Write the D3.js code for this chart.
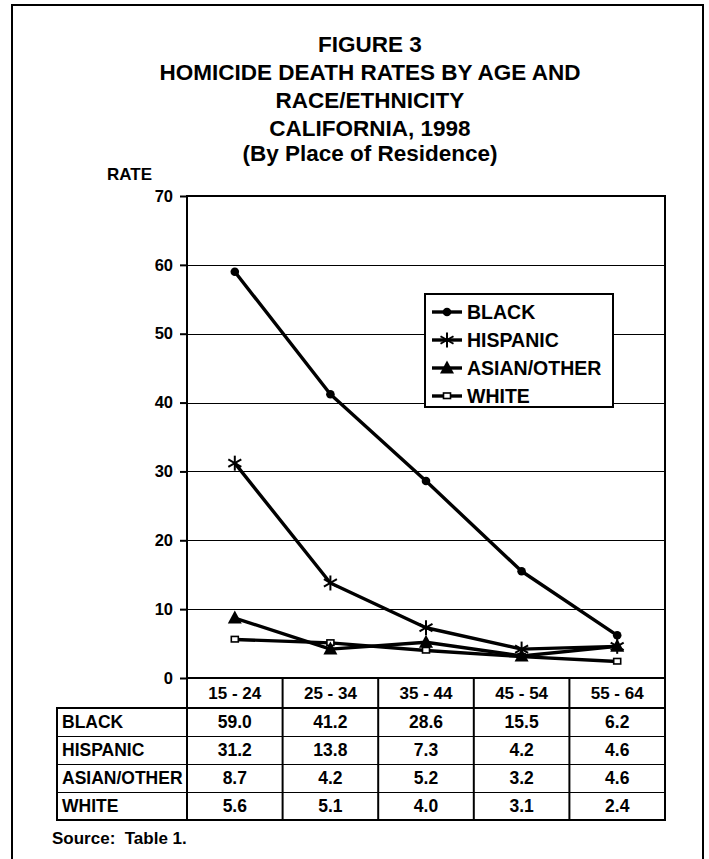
<!DOCTYPE html>
<html><head><meta charset="utf-8">
<script src="https://cdn.jsdelivr.net/npm/d3@7"></script>
<style>
html,body{margin:0;padding:0;background:#fff;}
svg{display:block;}
text{font-family:"Liberation Sans",Arial,sans-serif;font-weight:bold;fill:#000;white-space:pre;}
</style></head>
<body>
<svg id="chart" width="709" height="859"></svg>
<script>
const categories = ["15 - 24","25 - 34","35 - 44","45 - 54","55 - 64"];
const seriesNames = ["BLACK","HISPANIC","ASIAN/OTHER","WHITE"];
const black = [59.0, 41.2, 28.6, 15.5, 6.2];
const hispanic = [31.2, 13.8, 7.3, 4.2, 4.6];
const asianOther = [8.7, 4.2, 5.2, 3.2, 4.6];
const white = [5.6, 5.1, 4.0, 3.1, 2.4];
const yTicks = [0,10,20,30,40,50,60,70];
const titleLines = ["FIGURE 3","HOMICIDE DEATH RATES BY AGE AND","RACE/ETHNICITY","CALIFORNIA, 1998","(By Place of Residence)"];
const yLabel = "RATE";
const sourceNote = "Source:  Table 1.";

const series = [
  {name: seriesNames[0], values: black, marker: "circle"},
  {name: seriesNames[1], values: hispanic, marker: "star"},
  {name: seriesNames[2], values: asianOther, marker: "triangle"},
  {name: seriesNames[3], values: white, marker: "square"}
];

const svg = d3.select("#chart");
const L = 187, R = 665, T = 196, B = 678;
const x = d3.scaleBand().domain(categories).range([L, R]).padding(0);
const y = d3.scaleLinear().domain([0, 70]).range([B, T]);

// outer frame (open at bottom)
svg.append("path").attr("d", "M12,859 L12,5 L703,5 L703,859")
  .attr("fill","none").attr("stroke","#000").attr("stroke-width",2);

// title
const titleBase = [52, 80, 108, 136, 161];
svg.append("g").selectAll("text").data(titleLines).join("text")
  .attr("x", 370).attr("y", (d,i) => titleBase[i])
  .attr("text-anchor","middle").attr("font-size", 22.5).text(d => d);

svg.append("text").attr("x",107).attr("y",180).attr("font-size",17).text(yLabel);

// gridlines
svg.append("g").selectAll("line").data(yTicks.filter(t => t > 0 && t < 70)).join("line")
  .attr("x1", L).attr("x2", R).attr("y1", d => Math.round(y(d)) + 0.5).attr("y2", d => Math.round(y(d)) + 0.5)
  .attr("stroke","#000").attr("stroke-width",1.2);

// y axis
const yAxis = d3.axisLeft(y).tickValues(yTicks).tickSize(7).tickPadding(7).tickFormat(d3.format("d"));
const ga = svg.append("g").attr("transform",`translate(${L},0)`).call(yAxis);
ga.select(".domain").remove();
ga.selectAll(".tick line").attr("stroke","#000").attr("stroke-width",2);
ga.selectAll(".tick text").attr("font-size",16.5).attr("font-family",'"Liberation Sans",Arial,sans-serif').attr("font-weight","bold").attr("fill","#000");

// plot frame
svg.append("rect").attr("x",L).attr("y",T).attr("width",R-L).attr("height",B-T)
  .attr("fill","none").attr("stroke","#000").attr("stroke-width",2);

// table
const tTop = 708, rowH = 28, tLeft = 57;
const tBottom = tTop + rowH * seriesNames.length;
svg.append("g").selectAll("text").data(categories).join("text")
  .attr("x", d => x(d) + x.bandwidth()/2).attr("y", 699)
  .attr("text-anchor","middle").attr("font-size",17).text(d => d);
const vx = categories.map(c => x(c)).concat([R]);
svg.append("g").selectAll("line").data(vx).join("line")
  .attr("x1", d => d).attr("x2", d => d).attr("y1", B).attr("y2", tBottom)
  .attr("stroke","#000").attr("stroke-width",2);
svg.append("line").attr("x1",tLeft).attr("x2",tLeft).attr("y1",tTop).attr("y2",tBottom).attr("stroke","#000").attr("stroke-width",2);
svg.append("line").attr("x1",tLeft-1).attr("x2",R+1).attr("y1",tTop).attr("y2",tTop).attr("stroke","#000").attr("stroke-width",2);
svg.append("line").attr("x1",tLeft-1).attr("x2",R+1).attr("y1",tBottom).attr("y2",tBottom).attr("stroke","#000").attr("stroke-width",2);
svg.append("g").selectAll("line").data(d3.range(1, seriesNames.length)).join("line")
  .attr("x1", tLeft).attr("x2", R).attr("y1", i => tTop + i*rowH + 0.5).attr("y2", i => tTop + i*rowH + 0.5)
  .attr("stroke","#000").attr("stroke-width",1.2);
const rows = svg.append("g").selectAll("g").data(series).join("g");
rows.append("text").attr("x",62).attr("y",(d,i) => tTop + i*rowH + 20).attr("font-size",17.5).text(d => d.name);
rows.each(function(s, i){
  d3.select(this).selectAll("text.v").data(s.values).join("text").attr("class","v")
    .attr("x",(v,j) => x(categories[j]) + x.bandwidth()/2).attr("y", tTop + i*rowH + 20)
    .attr("text-anchor","middle").attr("font-size",17.5).text(v => v.toFixed(1));
});

svg.append("text").attr("x",52).attr("y",844).attr("font-size",17).text(sourceNote);

// markers
function drawMarker(g, type, cx, cy){
  if (type === "circle") {
    g.append("circle").attr("cx",cx).attr("cy",cy).attr("r",4.3).attr("fill","#000");
  } else if (type === "star") {
    const r = 7.5;
    [0,60,120].forEach(a => {
      const rad = a*Math.PI/180;
      g.append("line").attr("x1",cx - r*Math.sin(rad)).attr("y1",cy - r*Math.cos(rad))
        .attr("x2",cx + r*Math.sin(rad)).attr("y2",cy + r*Math.cos(rad))
        .attr("stroke","#000").attr("stroke-width",2);
    });
  } else if (type === "triangle") {
    g.append("path").attr("d",`M${cx},${cy-7.5} L${cx+7},${cy+5.5} L${cx-7},${cy+5.5} Z`).attr("fill","#000");
  } else if (type === "square") {
    g.append("rect").attr("x",cx-3.5).attr("y",cy-3).attr("width",7).attr("height",5.5)
      .attr("fill","#fff").attr("stroke","#000").attr("stroke-width",1.6);
  }
}

const line = d3.line().x((v,j) => x(categories[j]) + x.bandwidth()/2).y(v => y(v));
const plot = svg.append("g");
series.slice().reverse().forEach(s => {
  plot.append("path").datum(s.values).attr("d", line)
    .attr("fill","none").attr("stroke","#000").attr("stroke-width",3.4).attr("stroke-linejoin","round");
});
series.slice().reverse().forEach(s => {
  s.values.forEach((v,j) => drawMarker(plot, s.marker, x(categories[j]) + x.bandwidth()/2, y(v)));
});

// legend
const lg = svg.append("g");
lg.append("rect").attr("x",425).attr("y",294).attr("width",188).attr("height",113)
  .attr("fill","#fff").attr("stroke","#000").attr("stroke-width",2);
series.forEach((s,i) => {
  const cy = 312 + i*28;
  lg.append("line").attr("x1",432).attr("x2",462).attr("y1",cy).attr("y2",cy).attr("stroke","#000").attr("stroke-width",3.4);
  drawMarker(lg, s.marker, 447, cy);
  lg.append("text").attr("x",467).attr("y",cy+7).attr("font-size",19.5).text(s.name);
});
</script>
</body></html>
